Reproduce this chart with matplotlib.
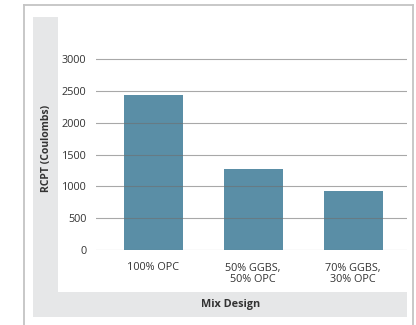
import numpy as np
import matplotlib.pyplot as plt
from matplotlib.patches import Rectangle
from matplotlib.lines import Line2D

# RCPT results per mix design
mixes = ['100% OPC', '50% GGBS,\n50% OPC', '70% GGBS,\n30% OPC']
rcpt = [2430, 1270, 930]
yticks = [0, 500, 1000, 1500, 2000, 2500, 3000]

W, H = 416, 325
fig = plt.figure(figsize=(W / 100, H / 100), dpi=100)
plt.rcParams['font.family'] = ['Open Sans', 'DejaVu Sans']


def box(x0, y0, x1, y1):
    # pixel box (top-left origin) -> figure fraction
    return [x0 / W, 1 - y1 / H, (x1 - x0) / W, (y1 - y0) / H]


# outer frame: left, top, right edges
for xs, ys in [([24, 24], [5, 325]), ([24, 413], [5, 5]), ([413, 413], [5, 325])]:
    fig.lines.append(Line2D([v / W for v in xs], [1 - v / H for v in ys],
                            transform=fig.transFigure, color='#c4c4c4', linewidth=1.3))

# grey title bands
lb = box(33, 17, 58, 317)
fig.patches.append(Rectangle((lb[0], lb[1]), lb[2], lb[3], transform=fig.transFigure,
                             facecolor='#e6e7e8', edgecolor='none'))
bb = box(33, 292, 407, 317)
fig.patches.append(Rectangle((bb[0], bb[1]), bb[2], bb[3], transform=fig.transFigure,
                             facecolor='#e6e7e8', edgecolor='none'))

ax = fig.add_axes(box(96, 17, 407, 250))
ax.set_facecolor('none')
x = np.arange(len(mixes))
ax.bar(x, rcpt, width=0.59, color='#5a8ea6', zorder=2)
for v in yticks:
    ax.axhline(v, color='#6f6f6f', linewidth=0.8, alpha=0.6, zorder=3)

ax.set_xlim(-0.57, 2.54)
ax.set_ylim(0, 3660)
ax.set_yticks(yticks)
ax.set_xticks(x)
ax.set_xticklabels(mixes, fontsize=7.8, color='#333333', linespacing=1.05)
ax.tick_params(axis='y', labelsize=7.8, colors='#333333', length=0, pad=7)
ax.tick_params(axis='x', length=0, pad=9)
for s in ax.spines.values():
    s.set_visible(False)

fig.text((33 + 58) / 2 / W + 0.002, 1 - 148 / H, 'RCPT (Coulombs)', rotation=90,
         ha='center', va='center', fontsize=7.5, fontweight='bold', color='#333333')
fig.text(231 / W, 1 - 305 / H, 'Mix Design',
         ha='center', va='center', fontsize=7.8, fontweight='bold', color='#333333')

fig.savefig('out.png', dpi=100, facecolor='white')
